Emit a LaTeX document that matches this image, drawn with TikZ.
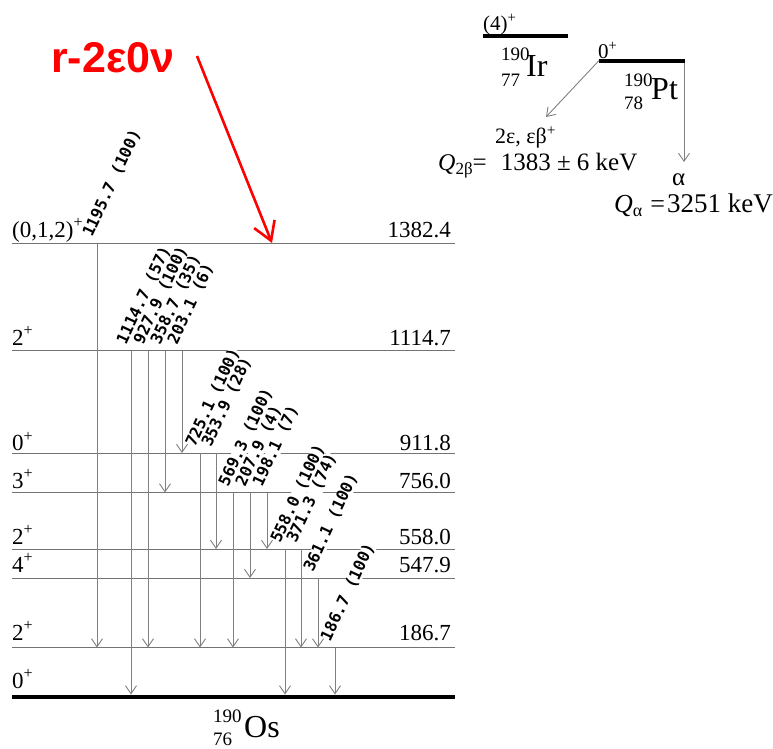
\documentclass[tikz,border=0pt]{standalone}
\usepackage{fontspec}
\setmainfont{Liberation Serif}
\newfontfamily\monof{DejaVu Sans Mono}
\newfontfamily\redf{Liberation Sans}
\usetikzlibrary{arrows.meta}
\newcommand\sk{\hphantom{0}}
\newcommand\fs[1]{\fontsize{#1}{#1}\selectfont}
\begin{document}
\begin{tikzpicture}[x=1pt,y=-1pt,
  lvl/.style={draw=black!55,line width=1pt},
  gnd/.style={draw=black,line width=4pt},
  tr/.style={draw=black!50,line width=0.9pt,-{Straight Barb[length=8pt,width=11pt]}},
  redarr/.style={draw=red,line width=2.6pt,-{Straight Barb[length=18pt,width=22pt]}},
  glab/.style={font=\monof\bfseries\fs{16},rotate=65,anchor=base west,inner sep=0pt,fill=white,text height=11.5pt,text depth=2.5pt},
  spin/.style={font=\fs{23},anchor=base west,inner sep=0pt},
  en/.style={font=\fs{23},anchor=base east,inner sep=0pt},
  txt/.style={anchor=base west,inner sep=0pt},
]
\useasboundingbox (0,0) rectangle (773,748);
% levels of 190Os
\foreach \n/\y in {a/243,b/350.5,c/453,d/492.5,e/549,f/578,g/647.5}{
  \coordinate (\n-w) at (12,\y);
  \coordinate (\n-e) at (455,\y);
  \draw[lvl] (\n-w) -- (\n-e);
}
\coordinate (z-w) at (12,696.5);
\coordinate (z-e) at (455,696.5);
\draw[gnd] (z-w) -- (z-e);
% spins
\node[spin] (sa) at (12,237) {(0,1,2)\textsuperscript{+}};
\node[spin] (sb) at (12,345) {2\textsuperscript{+}};
\node[spin] (sc) at (12,450.5) {0\textsuperscript{+}};
\node[spin] (sd) at (12,488) {3\textsuperscript{+}};
\node[spin] (se) at (12,544) {2\textsuperscript{+}};
\node[spin] (sf) at (12,572) {4\textsuperscript{+}};
\node[spin] (sg) at (12,640) {2\textsuperscript{+}};
\node[spin] (sz) at (12,688) {0\textsuperscript{+}};
% energies
\node[en] (ea) at (451,237) {1382.4};
\node[en] (eb) at (451,345) {1114.7};
\node[en] (ec) at (451,450.5) {911.8};
\node[en] (ed) at (451,488) {756.0};
\node[en] (ee) at (451,544) {558.0};
\node[en] (ef) at (451,572) {547.9};
\node[en] (eg) at (451,640) {186.7};
% transitions
\foreach \n/\x/\ya/\yb/\t in {
  t1/97/243/647.5/{1195.7\sk(100)},
  t2/131/350.5/694.5/{1114.7\sk(57)},
  t3/148/350.5/647.5/{927.9\sk(100)},
  t4/165/350.5/492.5/{358.7\sk(35)},
  t5/182/350.5/453/{203.1\sk(6)},
  t6/200/453/647.5/{725.1\sk(100)},
  t7/216/453/549/{353.9\sk(28)},
  t8/233/492.5/647.5/{569.3\sk(100)},
  t9/250/492.5/578/{207.9\sk(4)},
  t10/267/492.5/549/{198.1\sk(7)},
  t11/285/549/694.5/{558.0\sk(100)},
  t12/301/549/647.5/{371.3\sk(74)},
  t13/318/578/647.5/{361.1\sk(100)},
  t14/335/647.5/694.5/{186.7\sk(100)}}{
  \coordinate (\n-s) at (\x,\ya);
  \coordinate (\n-e) at (\x,\yb);
  \node[glab] (\n-l) at ([shift={(-5,-5)}]\n-s) {\t};
}
\foreach \n in {t1,t2,t3,t4,t5,t6,t7,t8,t9,t10,t11,t12,t13,t14}{
  \draw[tr] (\n-s) -- (\n-e);
}
% Os nuclide
\node[txt,font=\fs{19}] (os-a) at (213,722) {190};
\node[txt,font=\fs{19}] (os-z) at (213,745) {76};
\node[txt,font=\fs{32}] (os) at (244,737) {Os};
% Ir
\node[txt,font=\fs{21}] (ir-s) at (483,30) {(4)\textsuperscript{+}};
\coordinate (ir-w) at (483,35.5);
\coordinate (ir-e) at (568,35.5);
\draw[gnd] (ir-w) -- (ir-e);
\node[txt,font=\fs{19}] (ir-a) at (501,60) {190};
\node[txt,font=\fs{19}] (ir-z) at (501,86) {77};
\node[txt,font=\fs{32}] (ir) at (526,76) {Ir};
% Pt
\node[txt,font=\fs{21}] (pt-s) at (598,58) {0\textsuperscript{+}};
\coordinate (pt-w) at (599,60.5);
\coordinate (pt-e) at (685,60.5);
\draw[gnd] (pt-w) -- (pt-e);
\node[txt,font=\fs{19}] (pt-a) at (624,86) {190};
\node[txt,font=\fs{19}] (pt-z) at (624,109) {78};
\node[txt,font=\fs{32}] (pt) at (651,99.5) {Pt};
% decays
\coordinate (bb-e) at (546,117);
\draw[tr] (pt-w) -- (bb-e);
\coordinate (al-s) at (684,62.5);
\coordinate (al-e) at (684,162);
\draw[tr] (al-s) -- (al-e);
\node[txt,font=\fs{22}] (bb) at (495,143) {2ε, εβ\textsuperscript{+}};
\node[txt,font=\fs{24}] (qbb) at (438,170) {\textit{Q}\raisebox{-4pt}{\fs{17}2β}\fs{25}=\hspace{14pt}1383 ± 6 keV};
\node[txt,font=\fs{25}] (al) at (672,185) {α};
\node[anchor=base east,inner sep=0pt,font=\fs{26}] (qal) at (773,212) {\textit{Q}\raisebox{-4pt}{\fs{18}α}\hspace{8pt}=\hspace{2pt}\fs{27}3251 keV};
% red
\node[txt,text=red,font=\redf\bfseries\fs{43}] (rl) at (51,72) {r-2ε0ν};
\coordinate (r-s) at (197,56);
\coordinate (r-e) at (272,243);
\draw[redarr] (r-s) -- (r-e);
\end{tikzpicture}
\end{document}
